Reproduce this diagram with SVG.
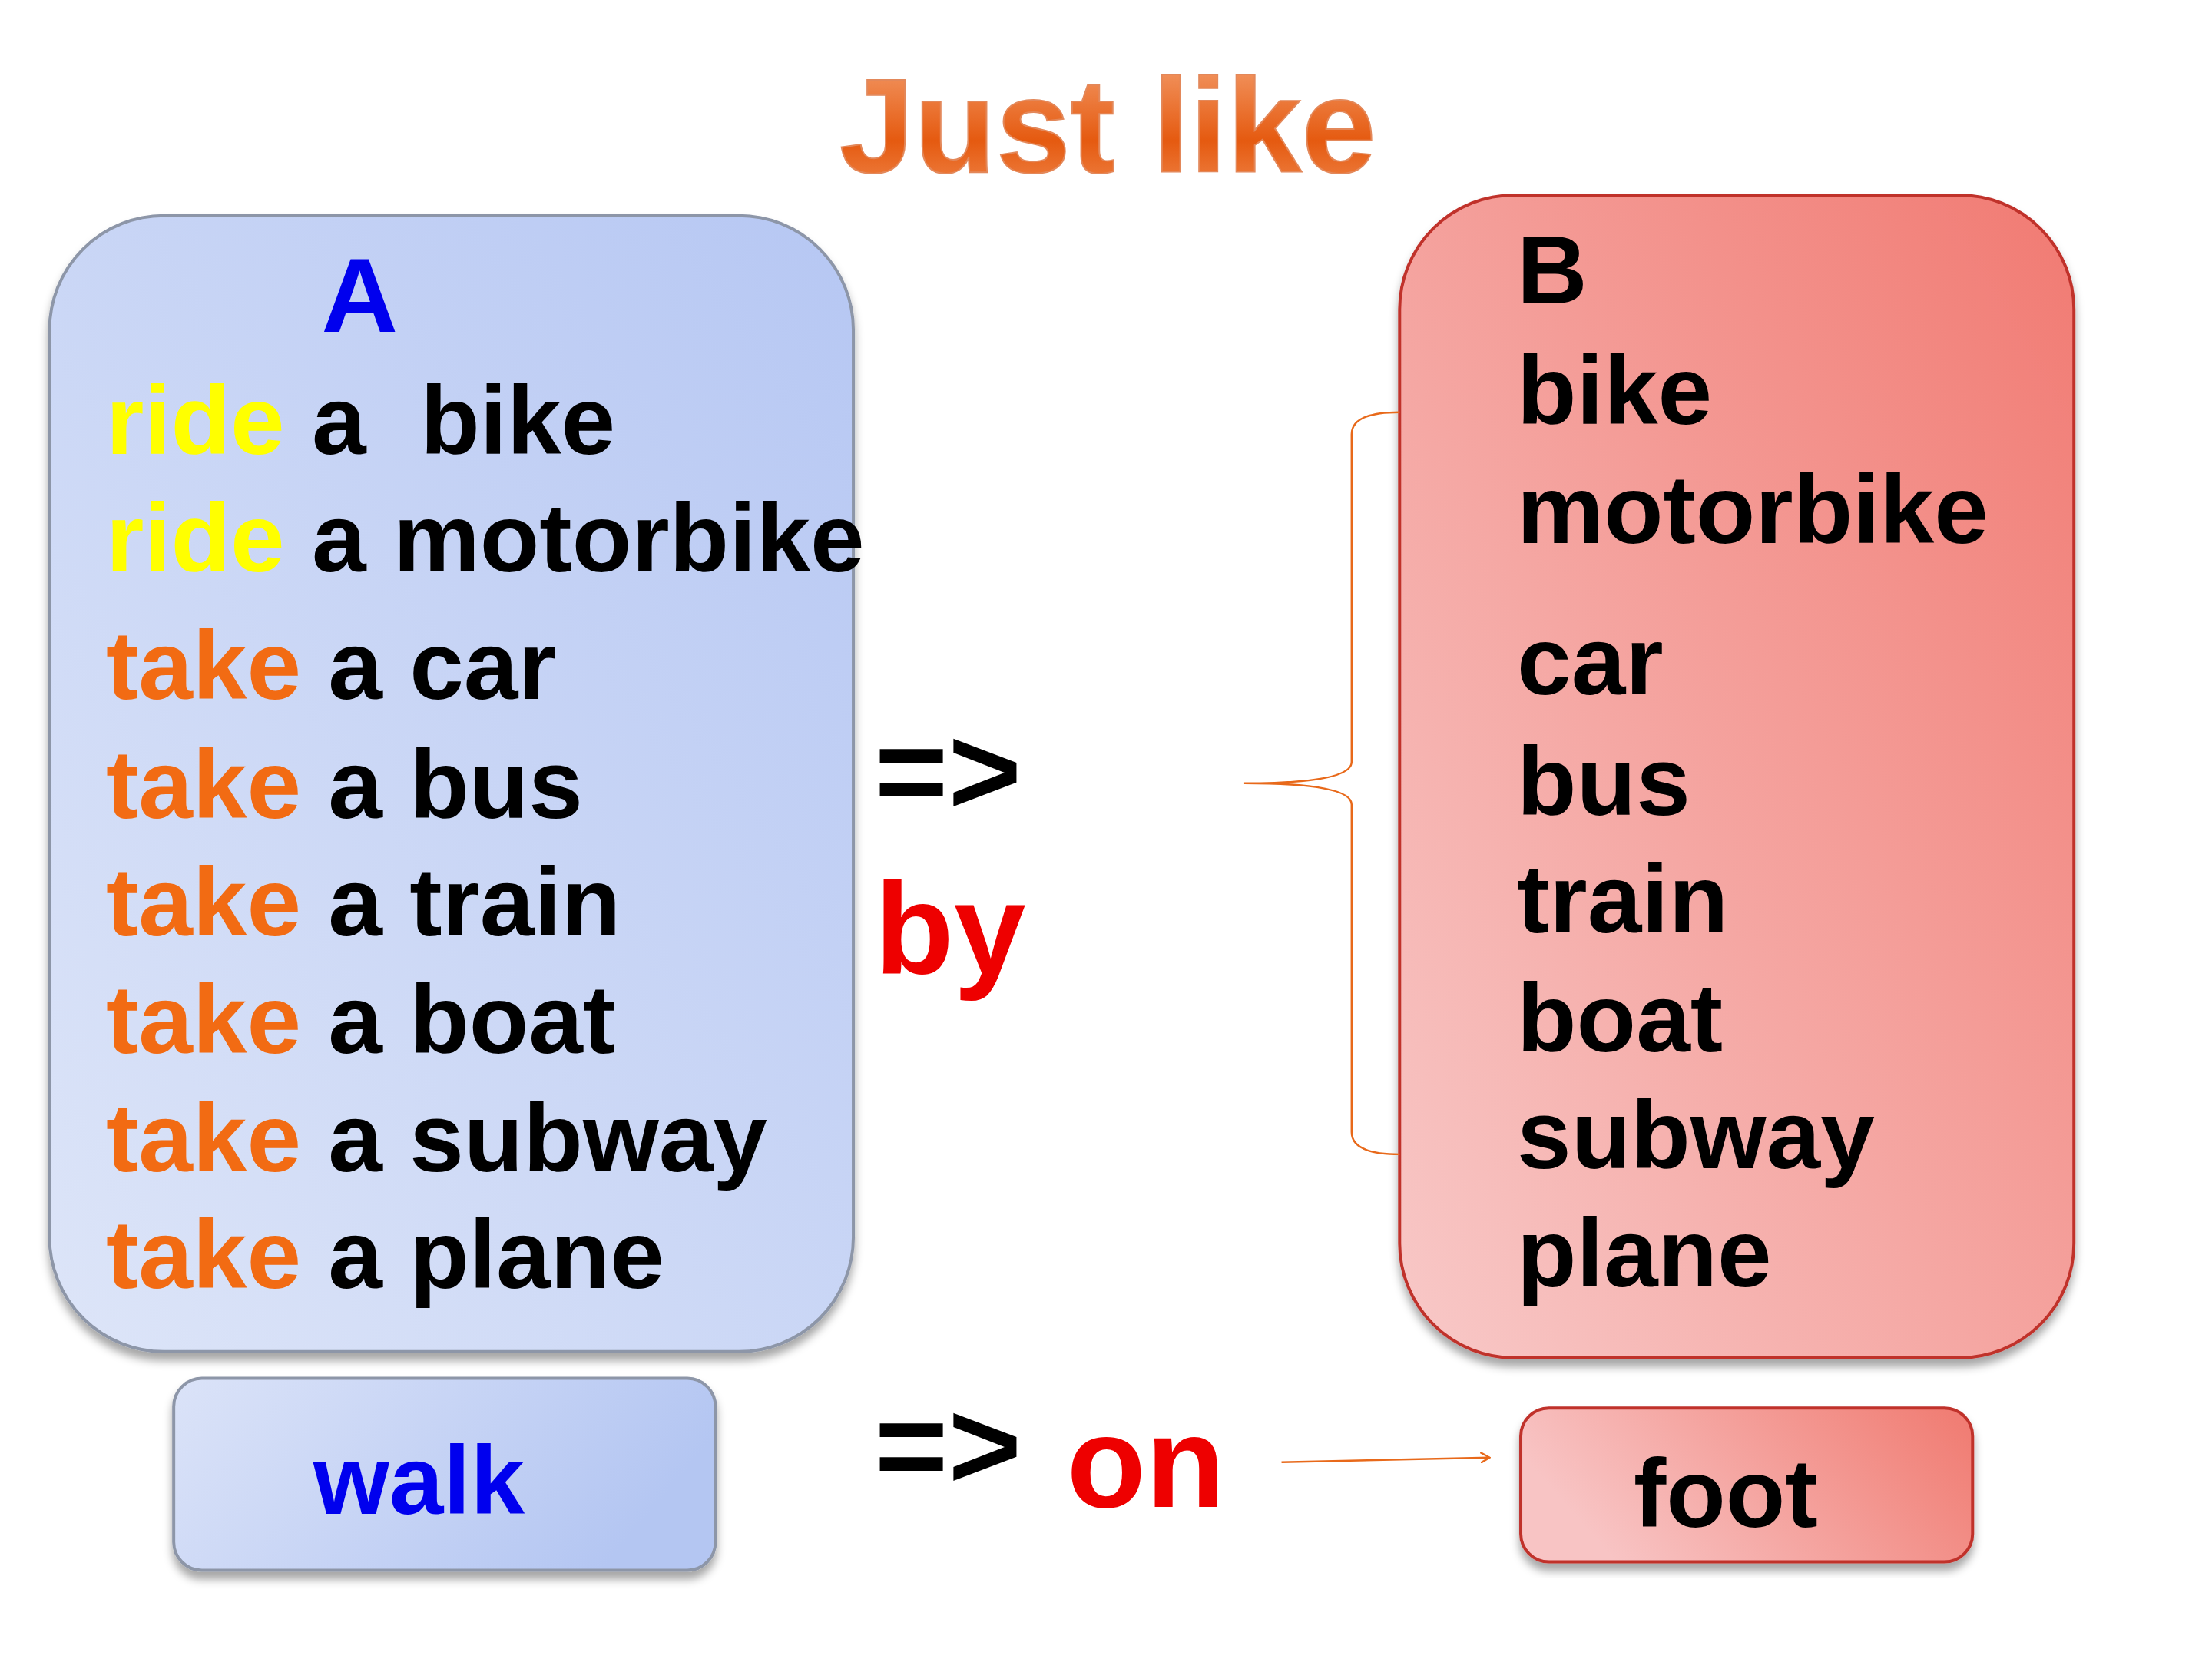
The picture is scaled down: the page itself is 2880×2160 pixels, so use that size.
<svg xmlns="http://www.w3.org/2000/svg" width="2880" height="2160" viewBox="0 0 2880 2160">
<defs>
<linearGradient id="gb" x1="1" y1="0" x2="0" y2="1"><stop offset="0" stop-color="#b6c7f3"/><stop offset="1" stop-color="#dde5f8"/></linearGradient>
<linearGradient id="gr" x1="1" y1="0" x2="0" y2="1"><stop offset="0" stop-color="#f17a72"/><stop offset="1" stop-color="#f8c9c8"/></linearGradient>
<linearGradient id="gw" x1="0" y1="0" x2="1" y2="0.3"><stop offset="0" stop-color="#dbe3f8"/><stop offset="1" stop-color="#b4c6f2"/></linearGradient>
<linearGradient id="gf" x1="0" y1="0.3" x2="1" y2="0"><stop offset="0" stop-color="#f8c4c4"/><stop offset="1" stop-color="#f07a70"/></linearGradient>
<linearGradient id="gt" x1="0" y1="0" x2="0" y2="1"><stop offset="0" stop-color="#f4a070"/><stop offset="0.6" stop-color="#e55a10"/><stop offset="1" stop-color="#f08a50"/></linearGradient>
<filter id="sh" x="-10%" y="-10%" width="120%" height="120%"><feDropShadow dx="0" dy="10" stdDeviation="6" flood-color="#000" flood-opacity="0.35"/></filter>
<marker id="ar" markerWidth="14" markerHeight="14" refX="12" refY="7" orient="auto" markerUnits="userSpaceOnUse"><path d="M0,0 L12,7 L0,14" fill="none" stroke="#e8691a" stroke-width="2.5"/></marker>
</defs>
<style>
text{font-family:"Liberation Sans",Arial,sans-serif;font-weight:bold}
.t{font-size:128px;fill:#000}
.y{fill:#ffff00}.o{fill:#f26b13}
</style>
<rect width="2880" height="2160" fill="#fff"/>
<g transform="scale(0.992)">
<text x="1454" y="226" text-anchor="middle" font-size="176" fill="url(#gt)" stroke="#e3885a" stroke-width="2">Just like</text>
<g id="nodeA">
<rect x="65" y="283" width="1055" height="1491" rx="150" fill="url(#gb)" stroke="#8d96a8" stroke-width="4" filter="url(#sh)"/>
<text x="422" y="435" font-size="139" fill="#0000ee">A</text>
<text class="t" x="139" y="596"><tspan class="y">ride</tspan> a&#160; bike</text>
<text class="t" x="139" y="750"><tspan class="y">ride</tspan> a motorbike</text>
<text class="t" x="139" y="917"><tspan class="o">take</tspan> a car</text>
<text class="t" x="139" y="1074"><tspan class="o">take</tspan> a bus</text>
<text class="t" x="139" y="1228"><tspan class="o">take</tspan> a train</text>
<text class="t" x="139" y="1382"><tspan class="o">take</tspan> a boat</text>
<text class="t" x="139" y="1537"><tspan class="o">take</tspan> a subway</text>
<text class="t" x="139" y="1691"><tspan class="o">take</tspan> a plane</text>
</g>
<g id="nodeB">
<rect x="1837" y="256" width="885" height="1526" rx="150" fill="url(#gr)" stroke="#c0302c" stroke-width="4" filter="url(#sh)"/>
<text class="t" x="1991" y="398">B</text>
<text class="t" x="1991" y="556">bike</text>
<text class="t" x="1991" y="713">motorbike</text>
<text class="t" x="1991" y="911">car</text>
<text class="t" x="1991" y="1070">bus</text>
<text class="t" x="1991" y="1224">train</text>
<text class="t" x="1991" y="1380">boat</text>
<text class="t" x="1991" y="1533">subway</text>
<text class="t" x="1991" y="1689">plane</text>
</g>
<g id="walk">
<rect x="228" y="1809" width="711" height="252" rx="37" fill="url(#gw)" stroke="#8d96a8" stroke-width="4" filter="url(#sh)"/>
<text x="550" y="1987" text-anchor="middle" font-size="128" fill="#0000ee">walk</text>
</g>
<g id="foot">
<rect x="1996" y="1848" width="593" height="202" rx="37" fill="url(#gf)" stroke="#c0302c" stroke-width="4" filter="url(#sh)"/>
<text x="2265" y="2004" text-anchor="middle" font-size="128" fill="#000">foot</text>
</g>
<g id="labels">
<text x="1148" y="1069" font-size="165" fill="#000">=&gt;</text>
<text x="1148" y="1278" font-size="170" fill="#ee0000">by</text>
<text x="1148" y="1954" font-size="165" fill="#000">=&gt;</text>
<text x="1400" y="1978" font-size="170" fill="#ee0000">on</text>
</g>
<g id="connectors" fill="none" stroke="#e8691a" stroke-width="2.5">
<path d="M1837,541 Q1774,541 1774,570 L1774,1000 Q1774,1028 1633,1028 Q1774,1028 1774,1056 L1774,1486 Q1774,1515 1837,1515"/>
<path d="M1682,1919 L1955,1913" marker-end="url(#ar)"/>
</g>
</g>
</svg>
